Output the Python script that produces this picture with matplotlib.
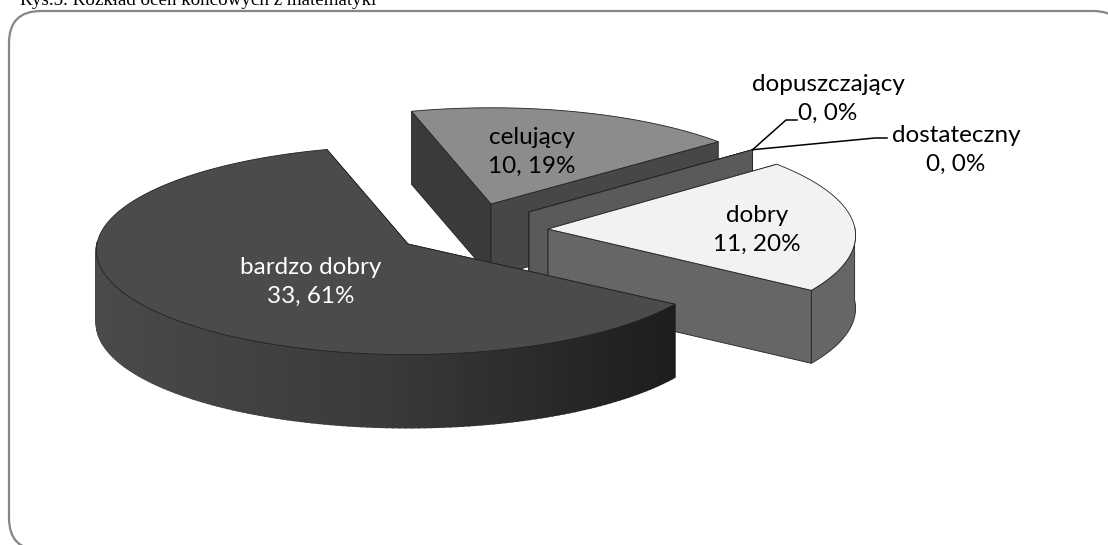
import numpy as np
import matplotlib
matplotlib.use("Agg")
import matplotlib.pyplot as plt
from matplotlib.colors import LinearSegmentedColormap
from matplotlib.patches import FancyBboxPatch, Polygon

# clockwise from the top, like in the original
names = ["celujący", "dopuszczający", "dostateczny", "dobry", "bardzo dobry"]
counts = [10, 0, 0, 11, 33]
percents = [19, 0, 0, 20, 61]

top_colors = ["#8c8c8c", "#5a5a5a", "#5a5a5a", "#f2f2f2", "#4b4b4b"]
wall_colors = ["#474747", "#5a5a5a", "#5a5a5a", "#666666", "#4a4a4a"]
centers = [(491, 204), (529, 212), (529, 212), (548, 229), (408, 244)]
radii = [(305, 102), (300, 102), (300, 102), (307, 106), (311, 104)]
label_pos = [(532, 152), (828, 99), (956, 150), (757, 230), (311, 282)]
label_colors = ["black", "black", "black", "black", "white"]

DEPTH = 73
TILT = 0.06
START_ANGLE = 106


def project(center, radius, theta):
    theta = np.radians(theta)
    d = 1 + TILT * np.sin(theta)
    x = center[0] + radius[0] * np.cos(theta) / d
    y = center[1] - radius[1] * np.sin(theta) / d
    return x, y


def draw_slice(ax, i, a1, a2, z):
    # a1 -> a2 goes clockwise, angles in degrees
    c, r = centers[i], radii[i]
    th = np.linspace(a1, a2, 200)
    xs, ys = project(c, r, th)
    line = dict(edgecolor="#222222", linewidth=0.6, zorder=z)
    # flat side walls
    for a in (a1, a2):
        x, y = project(c, r, a)
        wall = [(c[0], c[1]), (x, y), (x, y + DEPTH), (c[0], c[1] + DEPTH)]
        color = "#3b3b3b" if (i == 0 and a == a1) else wall_colors[i]
        ax.add_patch(Polygon(wall, closed=True, facecolor=color, **line))
    if a1 == a2:
        return
    # outer wall, only the front part shows
    front = th[np.sin(np.radians(th)) < 0.02]
    if len(front) > 1:
        if i == 4:
            cmap = LinearSegmentedColormap.from_list("side", ["#4a4a4a", "#3a3a3a", "#1d1d1d"])
            fx, fy = project(c, r, front)
            lo, hi = fx.min(), fx.max()
            for k in range(len(front) - 1):
                poly = [(fx[k], fy[k]), (fx[k + 1], fy[k + 1]),
                        (fx[k + 1], fy[k + 1] + DEPTH), (fx[k], fy[k] + DEPTH)]
                col = cmap((fx[k] - lo) / (hi - lo))
                ax.add_patch(Polygon(poly, closed=True, facecolor=col, edgecolor=col,
                                     linewidth=1.2, zorder=z))
        else:
            fx, fy = project(c, r, front)
            poly = list(zip(fx, fy)) + list(zip(fx[::-1], fy[::-1] + DEPTH))
            ax.add_patch(Polygon(poly, closed=True, facecolor=wall_colors[i], **line))
    top = [(c[0], c[1])] + list(zip(xs, ys))
    ax.add_patch(Polygon(top, closed=True, facecolor=top_colors[i], **line))


plt.rcParams["font.family"] = ["Lato", "DejaVu Sans"]
fig = plt.figure(figsize=(11.08, 5.45), dpi=100)
ax = fig.add_axes([0, 0, 1, 1])
ax.set_xlim(0, 1108)
ax.set_ylim(545, 0)
ax.axis("off")

ax.add_patch(FancyBboxPatch((9, 11), 1116, 539, boxstyle="round,pad=0,rounding_size=32",
                            facecolor="white", edgecolor="#868686", linewidth=1.6, zorder=0))
ax.text(20, 5, "Rys.5. Rozkład ocen końcowych z matematyki", family="Liberation Serif",
        fontsize=13.7, color="black", va="baseline", ha="left", zorder=1)

# angles from the values
total = sum(counts)
angle = START_ANGLE
spans = []
for n in counts:
    spans.append((angle, angle - n / total * 360))
    angle -= n / total * 360

for z, i in enumerate([0, 1, 2, 3, 4]):
    draw_slice(ax, i, spans[i][0], spans[i][1], 2 + z)

# leader lines for the empty slices
end = project(centers[1], radii[1], spans[1][0])
ax.plot([end[0], 786, 797], [end[1], 120, 120], color="black", lw=1.1, zorder=8)
ax.plot([end[0], 875, 887], [end[1], 138, 138], color="black", lw=1.1, zorder=8)

for i in range(len(names)):
    ax.text(label_pos[i][0], label_pos[i][1], "{}\n{}, {}%".format(names[i], counts[i], percents[i]),
            ha="center", va="center", fontsize=17.5, color=label_colors[i], linespacing=1.47, zorder=9)

fig.savefig("out.png", dpi=100)
